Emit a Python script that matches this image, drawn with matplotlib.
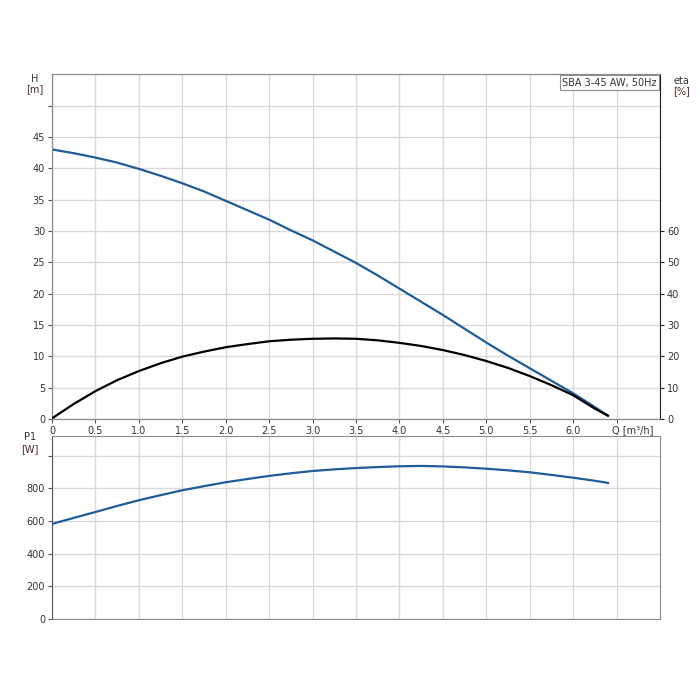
import matplotlib
matplotlib.use("Agg")
import matplotlib.pyplot as plt

# flow Q [m3/h]
q = [0.0, 0.25, 0.5, 0.75, 1.0, 1.25, 1.5, 1.75, 2.0, 2.25, 2.5, 2.75, 3.0,
     3.25, 3.5, 3.75, 4.0, 4.25, 4.5, 4.75, 5.0, 5.25, 5.5, 5.75, 6.0, 6.25, 6.4]
# head H [m]
head = [43.0, 42.4, 41.7, 40.9, 39.9, 38.8, 37.6, 36.3, 34.8, 33.3, 31.8, 30.1, 28.5,
        26.7, 24.9, 22.9, 20.8, 18.7, 16.6, 14.4, 12.2, 10.1, 8.1, 6.1, 4.1, 1.9, 0.5]
# efficiency eta [%]
eta = [0.2, 4.8, 8.9, 12.4, 15.3, 17.8, 19.9, 21.5, 22.9, 23.9, 24.8, 25.3, 25.6,
       25.7, 25.6, 25.1, 24.3, 23.3, 22.0, 20.4, 18.5, 16.3, 13.7, 10.8, 7.6, 3.3, 1.1]
# power P1 [W]
p1 = [582, 619, 655, 692, 727, 758, 788, 813, 837, 857, 876, 892, 906,
      916, 924, 930, 935, 937, 934, 928, 920, 910, 898, 882, 865, 846, 833]

x_ticks = [0, 0.5, 1.0, 1.5, 2.0, 2.5, 3.0, 3.5, 4.0, 4.5, 5.0, 5.5, 6.0, 6.5]
x_labels = ["0", "0.5", "1.0", "1.5", "2.0", "2.5", "3.0", "3.5", "4.0", "4.5", "5.0", "5.5", "6.0", ""]
h_ticks = [0, 5, 10, 15, 20, 25, 30, 35, 40, 45, 50]
h_labels = ["0", "5", "10", "15", "20", "25", "30", "35", "40", "45", ""]
eta_ticks = [0, 10, 20, 30, 40, 50, 60]
p_ticks = [0, 200, 400, 600, 800, 1000]
p_labels = ["0", "200", "400", "600", "800", ""]

blue = "#1f5c99"
grid_c = "#d9d9d9"
frame_c = "#8c8c8c"
unit_c = "#4a2424"
label_c = "#333333"

fig = plt.figure(figsize=(7, 7), dpi=100)
ax = fig.add_axes([0.0743, 0.4014, 0.8686, 0.4926])
ax2 = ax.twinx()
axp = fig.add_axes([0.0743, 0.1157, 0.8686, 0.2614])

# top: head + efficiency
ax.plot(q, head, color=blue, lw=1.6, zorder=3, solid_joinstyle="round")
ax2.plot(q, eta, color="black", lw=1.6, zorder=3, solid_joinstyle="round")
ax.set_xlim(0, 7)
ax.set_ylim(0, 55)
ax2.set_ylim(0, 110)
ax.set_xticks(x_ticks)
ax.set_xticklabels(x_labels)
ax.set_yticks(h_ticks)
ax.set_yticklabels(h_labels)
ax2.set_yticks(eta_ticks)
ax.grid(True, color=grid_c, lw=1)
ax.set_axisbelow(True)

for a in (ax, ax2):
    for s in a.spines.values():
        s.set_color(frame_c)
ax2.spines["right"].set_color("#222222")
ax.spines["left"].set_color("#555555")
ax.spines["bottom"].set_color("#555555")
ax.tick_params(labelsize=7, length=3, width=0.8, color="#555555", labelcolor=label_c, pad=2)
ax2.tick_params(labelsize=7, length=3, width=0.8, color="#222222", labelcolor=label_c, pad=2)

ax.text(-0.028, 1.0, "H", transform=ax.transAxes, fontsize=7, ha="center", va="top", color=label_c)
ax.text(-0.028, 0.97, "[m]", transform=ax.transAxes, fontsize=7, ha="center", va="top", color=unit_c)
ax.text(1.035, 0.995, "eta", transform=ax.transAxes, fontsize=7, ha="center", va="top", color=label_c)
ax.text(1.035, 0.965, "[%]", transform=ax.transAxes, fontsize=7, ha="center", va="top", color=unit_c)
ax.text(0.995, 0.99, "SBA 3-45 AW, 50Hz", transform=ax.transAxes, fontsize=7, ha="right", va="top",
        color=label_c, bbox=dict(boxstyle="square,pad=0.25", fc="white", ec=frame_c, lw=0.8), zorder=5)
ax.text(0.99, -0.018, "Q [m³/h]", transform=ax.transAxes, fontsize=7, ha="right", va="top", color=label_c)

# bottom: power
axp.plot(q, p1, color=blue, lw=1.6, zorder=3, solid_joinstyle="round")
axp.set_xlim(0, 7)
axp.set_ylim(0, 1120)
axp.set_xticks(x_ticks)
axp.set_xticklabels([])
axp.set_yticks(p_ticks)
axp.set_yticklabels(p_labels)
axp.grid(True, color=grid_c, lw=1)
axp.set_axisbelow(True)
for s in axp.spines.values():
    s.set_color(frame_c)
axp.spines["left"].set_color("#555555")
axp.tick_params(axis="y", labelsize=7, length=3, width=0.8, color="#555555", labelcolor=label_c, pad=2)
axp.tick_params(axis="x", length=0)
axp.text(-0.036, 1.02, "P1", transform=axp.transAxes, fontsize=7, ha="center", va="top", color=label_c)
axp.text(-0.036, 0.955, "[W]", transform=axp.transAxes, fontsize=7, ha="center", va="top", color=unit_c)

fig.savefig("out.png", dpi=100, facecolor="white")
